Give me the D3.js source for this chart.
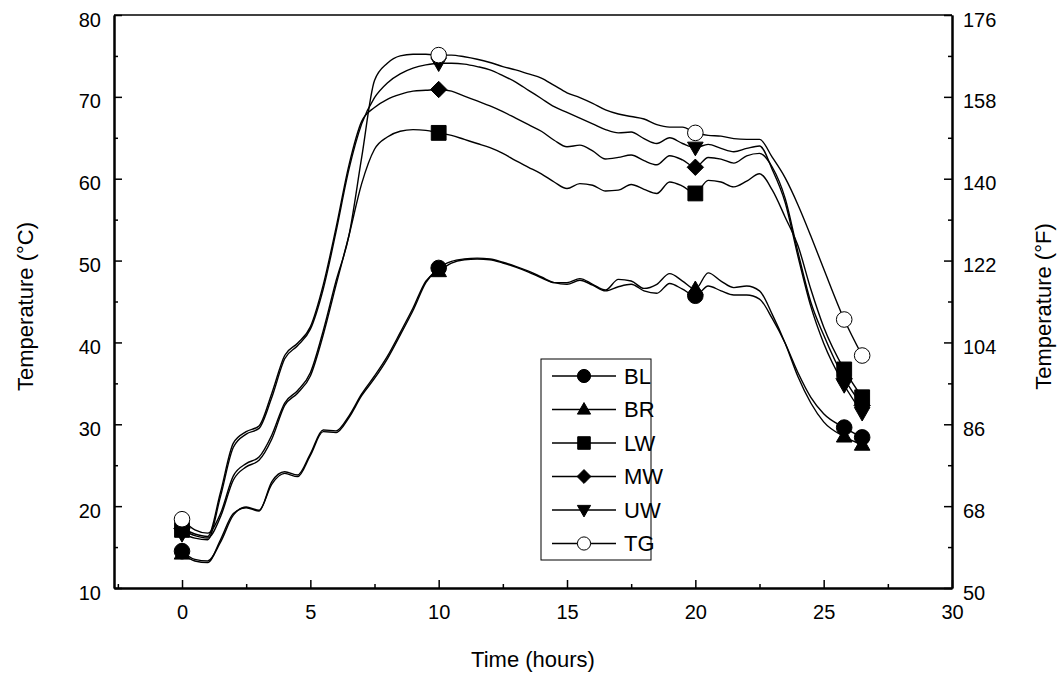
<!DOCTYPE html>
<html><head><meta charset="utf-8">
<script src="https://cdn.jsdelivr.net/npm/d3@7"></script>
<style>
body{margin:0;background:#fff;}
svg{display:block;font-family:"Liberation Sans",Arial,sans-serif;}
</style></head>
<body><svg id="chart" width="1063" height="677"></svg>
<script>
const times = [0,0.5,1,1.5,2,2.5,3,3.5,4,4.5,5,5.5,6,6.5,7,7.5,8,8.5,9,9.5,10,10.5,11,11.5,12,12.5,13,13.5,14,14.5,15,15.5,16,16.5,17,17.5,18,18.5,19,19.5,20,20.5,21,21.5,22,22.5,23,23.5,24,24.5,25,25.8,26.5];
const markerTimes = [0,10,20,25.8,26.5];
const seriesNames = ["BL","BR","LW","MW","UW","TG"];
const BL = [14.5,13.5,13.3,15.6,18.9,19.9,19.5,22.7,24.0,23.6,26.2,29.1,29.0,30.8,33.5,35.6,38.0,40.9,43.9,47.3,49.1,49.9,50.2,50.3,50.2,49.8,49.3,48.7,48.0,47.3,47.1,47.6,47.0,46.3,46.8,47.1,46.3,46.0,47.2,46.5,45.7,46.9,46.3,45.8,45.8,45.3,42.9,39.9,36.3,33.3,31.3,29.6,28.4];
const BR = [14.2,13.3,13.1,15.9,19.1,19.8,19.4,23.0,24.2,23.8,26.4,29.3,29.2,31.0,33.7,35.9,38.3,41.2,44.2,47.5,48.7,49.7,50.1,50.2,50.1,49.7,49.2,48.6,47.9,47.3,47.3,47.8,47.1,46.4,47.7,47.5,46.6,47.1,48.4,47.5,46.5,48.5,47.5,46.7,46.9,46.3,43.4,39.9,35.8,32.6,30.3,28.5,27.5];
const LW = [17.1,16.4,16.1,18.7,23.2,24.8,25.6,28.2,32.3,33.8,35.9,40.9,47.0,53.0,59.4,63.6,65.1,65.8,66.0,65.9,65.6,65.3,64.8,64.3,63.8,63.1,62.2,61.4,60.6,59.6,58.8,59.4,59.2,58.5,58.6,59.3,58.7,58.2,59.6,59.1,58.2,59.8,59.6,59.0,59.7,60.6,58.6,55.3,51.8,46.5,41.9,36.7,33.3];
const MW = [17.3,16.6,16.3,21.7,27.7,29.1,29.8,33.8,38.4,39.9,41.9,47.0,54.0,61.6,67.0,68.7,69.7,70.3,70.7,70.8,70.9,70.7,70.1,69.5,68.9,68.2,67.4,66.6,65.8,64.7,63.9,64.1,63.4,62.4,62.6,62.9,62.2,61.7,62.8,62.3,61.4,62.6,62.4,61.9,62.8,63.1,61.4,57.6,51.0,44.9,40.9,35.6,32.3];
const UW = [16.6,16.1,15.9,21.2,27.2,28.8,29.5,33.3,38.0,39.6,41.6,46.5,53.5,61.1,66.7,69.9,71.7,72.8,73.5,73.9,74.1,74.1,74.0,73.7,73.3,72.6,71.8,70.8,69.8,68.8,68.1,67.4,66.7,66.0,65.6,65.7,64.9,64.3,65.0,64.3,63.8,64.2,63.7,63.3,63.7,64.0,61.1,57.1,50.5,44.4,39.9,34.8,31.4];
const TG = [18.4,17.1,16.7,19.1,23.7,25.2,26.0,28.7,32.6,34.1,36.3,41.4,47.5,53.0,62.6,72.0,74.1,75.0,75.2,75.2,75.1,75.1,74.9,74.6,74.2,73.7,73.3,72.8,72.3,71.4,70.5,69.9,69.2,68.4,67.9,67.6,67.3,66.6,66.3,66.3,65.6,65.3,65.2,64.9,64.8,64.8,62.6,60.1,56.8,53.0,49.0,42.8,38.4];
const xTicks = [0,5,10,15,20,25,30];
const yTicksC = [10,20,30,40,50,60,70,80];
const yTicksF = [50,68,86,104,122,140,158,176];

const seriesValues = {BL, BR, LW, MW, UW, TG};
const markerShape = {BL:"circle", BR:"tri-up", LW:"square", MW:"diamond", UW:"tri-down", TG:"open-circle"};

const svg = d3.select("#chart");
const L = 114, R = 952, T = 15, B = 588;
const x = d3.scaleLinear().domain([-2.65, 30]).range([L, R]);
const y = d3.scaleLinear().domain([10, 80]).range([B, T]);
const yF = d3.scaleLinear().domain([50, 176]).range([B, T]);
const fs = 20, fsTitle = 22, fsLeg = 22;

function markerPath(shape, s) {
  switch (shape) {
    case "tri-up": return `M0,${-s*1.05}L${s*1.0},${s*0.7}L${-s*1.0},${s*0.7}Z`;
    case "tri-down": return `M0,${s*1.05}L${s*1.0},${-s*0.7}L${-s*1.0},${-s*0.7}Z`;
    case "square": return `M${-s*0.95},${-s*0.95}H${s*0.95}V${s*0.95}H${-s*0.95}Z`;
    case "diamond": return `M0,${-s*1.05}L${s*1.05},0L0,${s*1.05}L${-s*1.05},0Z`;
    default: return d3.symbol(d3.symbolCircle, Math.PI*s*s)();
  }
}

svg.append("line").attr("x1", L).attr("x2", R).attr("y1", T).attr("y2", T).attr("stroke", "#000").attr("stroke-width", 1.5);

function styleAxis(g) {
  g.selectAll("path").attr("stroke", "#000").attr("stroke-width", 2);
  g.selectAll("line").attr("stroke", "#000").attr("stroke-width", 1.5);
  g.selectAll("text").attr("fill", "#000").style("font-size", fs + "px").style("font-family", '"Liberation Sans",Arial,sans-serif');
}
const minorX = d3.range(-2.5, 30, 5);
const minorY = d3.range(15, 80, 10);
const minorF = d3.range(59, 176, 18);

svg.append("g").attr("transform", `translate(0,${B})`)
  .call(d3.axisBottom(x).tickValues(minorX).tickSize(-4).tickFormat("").tickSizeOuter(0)).call(styleAxis);
svg.append("g").attr("transform", `translate(0,${B})`)
  .call(d3.axisBottom(x).tickValues(xTicks).tickSize(-8).tickPadding(17).tickSizeOuter(0)).call(styleAxis);

svg.append("g").attr("transform", `translate(${L},0)`)
  .call(d3.axisLeft(y).tickValues(minorY).tickSize(-4).tickFormat("").tickSizeOuter(0)).call(styleAxis);
svg.append("g").attr("transform", `translate(${L},0)`)
  .call(d3.axisLeft(y).tickValues(yTicksC).tickSize(-8).tickPadding(13).tickSizeOuter(0)).call(styleAxis)
  .selectAll("text").attr("dy", "0.55em");

svg.append("g").attr("transform", `translate(${R},0)`)
  .call(d3.axisRight(yF).tickValues(minorF).tickSize(-4).tickFormat("").tickSizeOuter(0)).call(styleAxis);
svg.append("g").attr("transform", `translate(${R},0)`)
  .call(d3.axisRight(yF).tickValues(yTicksF).tickSize(-8).tickPadding(11).tickSizeOuter(0)).call(styleAxis)
  .selectAll("text").attr("dy", "0.55em");

svg.append("text").attr("x", (L + R) / 2).attr("y", 667).attr("text-anchor", "middle")
  .style("font-size", fsTitle + "px").text("Time (hours)");
svg.append("text").attr("transform", `translate(33,${(T + B) / 2 + 5}) rotate(-90)`).attr("text-anchor", "middle")
  .style("font-size", fsTitle + "px").text("Temperature (°C)");
svg.append("text").attr("transform", `translate(1051,${(T + B) / 2 + 5}) rotate(-90)`).attr("text-anchor", "middle")
  .style("font-size", fsTitle + "px").text("Temperature (°F)");

const line = d3.line().x(d => x(d[0])).y(d => y(d[1])).curve(d3.curveMonotoneX);
const drawOrder = ["BR", "BL", "LW", "MW", "UW", "TG"];
drawOrder.forEach(name => {
  const pts = times.map((t, i) => [t, seriesValues[name][i]]);
  svg.append("path").datum(pts).attr("d", line).attr("fill", "none").attr("stroke", "#000").attr("stroke-width", 1.4);
});
drawOrder.forEach(name => {
  const shape = markerShape[name];
  const pts = times.map((t, i) => [t, seriesValues[name][i]]).filter(p => markerTimes.includes(p[0]));
  svg.append("g").selectAll("path").data(pts).join("path")
    .attr("transform", d => `translate(${x(d[0])},${y(d[1])})`)
    .attr("d", markerPath(shape, 7.8))
    .attr("fill", shape === "open-circle" ? "#fff" : "#000")
    .attr("stroke", "#000").attr("stroke-width", 1);
});

const lg = svg.append("g");
lg.append("rect").attr("x", 541).attr("y", 359).attr("width", 110).attr("height", 201)
  .attr("fill", "#fff").attr("stroke", "#000").attr("stroke-width", 1);
seriesNames.forEach((name, i) => {
  const cy = 376 + i * 33.5;
  lg.append("line").attr("x1", 552).attr("x2", 616).attr("y1", cy).attr("y2", cy).attr("stroke", "#000").attr("stroke-width", 1.4);
  const shape = markerShape[name];
  lg.append("path").attr("transform", `translate(584,${cy})`).attr("d", markerPath(shape, 6.6))
    .attr("fill", shape === "open-circle" ? "#fff" : "#000").attr("stroke", "#000").attr("stroke-width", 1);
  lg.append("text").attr("x", 624).attr("y", cy).attr("dy", "0.36em").style("font-size", fsLeg + "px").text(name);
});
</script></body></html>
